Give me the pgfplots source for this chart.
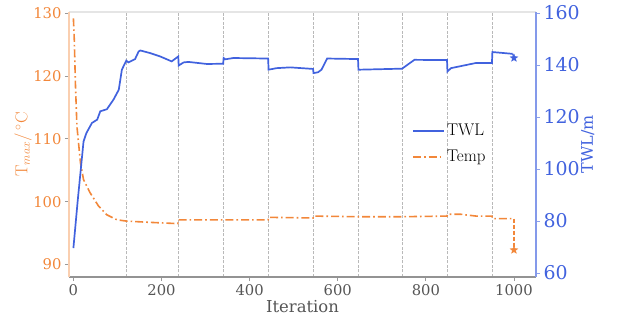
\documentclass[border=0pt]{standalone}
\usepackage[no-math]{fontspec}
\setmainfont{DejaVu Serif}
\newfontfamily\lmr{Latin Modern Roman}
\usepackage{pgfplots}
\pgfplotsset{compat=1.18}
\definecolor{tor}{RGB}{242,135,58}
\definecolor{tbl}{RGB}{65,98,222}
\definecolor{tgr}{RGB}{85,85,85}
\pgfdeclareplotmark{fstar}{%
  \pgfpathmoveto{\pgfpointpolar{90}{\pgfplotmarksize}}%
  \pgfpathlineto{\pgfpointpolar{126}{0.42\pgfplotmarksize}}%
  \pgfpathlineto{\pgfpointpolar{162}{\pgfplotmarksize}}%
  \pgfpathlineto{\pgfpointpolar{198}{0.42\pgfplotmarksize}}%
  \pgfpathlineto{\pgfpointpolar{234}{\pgfplotmarksize}}%
  \pgfpathlineto{\pgfpointpolar{270}{0.42\pgfplotmarksize}}%
  \pgfpathlineto{\pgfpointpolar{306}{\pgfplotmarksize}}%
  \pgfpathlineto{\pgfpointpolar{342}{0.42\pgfplotmarksize}}%
  \pgfpathlineto{\pgfpointpolar{18}{\pgfplotmarksize}}%
  \pgfpathlineto{\pgfpointpolar{54}{0.42\pgfplotmarksize}}%
  \pgfpathclose\pgfusepathqfillstroke}
\tikzset{tempstyle/.style={color=tor, line width=1.6bp, dash pattern=on 8bp off 3bp on 1.6bp off 3bp}}
\begin{document}
\begin{tikzpicture}
\path[use as bounding box] (-69bp,-43bp) rectangle (550bp,277bp);
\begin{axis}[
  scale only axis, width=467bp, height=265bp,
  xmin=-10, xmax=1050, ymin=88, ymax=130.2,
  clip=false,
  axis line style={draw=none},
  xtick={0,200,...,1000}, ytick={90,100,...,130},
  xtick pos=bottom, ytick pos=left, tick align=outside,
  major tick length=4bp, tick style={gray!80, line width=0.8bp},
  extra x ticks={120,238,340,442,544,646,747,849,950},
  extra x tick labels={},
  extra x tick style={grid=major, major tick length=0pt,
     major grid style={dash pattern=on 3bp off 1.5bp, gray!55, line width=0.6bp}},
  /pgf/number format/assume math mode=true,
  /pgf/number format/1000 sep={},
  xticklabel style={font=\fontsize{14.8}{17}\selectfont, text=tgr},
  yticklabel style={font=\fontsize{14.8}{17}\selectfont, text=tor},
  xlabel={Iteration},
  xlabel style={at={(axis description cs:0.5,-0.134)}, anchor=base, font=\fontsize{16.5}{19}\selectfont, text=tgr},
  ylabel={$\mathrm{T}_{max}/\,^\circ\mathrm{C}$},
  ylabel style={at={(axis description cs:-0.0985,0.5)}, anchor=center, rotate=0, font=\fontsize{18.5}{21}\selectfont, text=tor},
]
\draw[gray!85, line width=1.6bp] (rel axis cs:0,0) -- (rel axis cs:1,0);
\draw[gray!20, line width=1.6bp] (rel axis cs:0,1) -- (rel axis cs:1,1);
\draw[tor!40, line width=2bp] (rel axis cs:0,0) -- (rel axis cs:0,1);
\addplot[tempstyle] coordinates {
(0,129.2) (2,125.8) (4.5,118.9) (8,112) (16,106.2) (23,103.5) (38,101.4) (57,99.3)
(76,97.9) (99,97.1) (121,96.9) (174,96.7) (237,96.5) (238,97.1) (340,97.1) (442,97.1)
(443,97.5) (544,97.4) (545,97.7) (646,97.6) (746,97.6) (848,97.7) (849,98.0) (878,98.0)
(914,97.7) (950,97.7) (951,97.3) (1000,97.3)};
\addplot[color=tor, line width=1.2bp, dash pattern=on 4bp off 2bp] coordinates {(1000,97.3) (1000,92.3)};
\addplot[only marks, mark=fstar, mark size=4bp, color=tor] coordinates {(1000,92.3)};
\end{axis}
\begin{axis}[
  scale only axis, width=467bp, height=265bp,
  xmin=-10, xmax=1050, ymin=58.46, ymax=160.4,
  clip=false,
  axis line style={draw=none},
  xtick=\empty, ytick={60,80,...,160},
  ytick pos=right, tick align=outside,
  major tick length=4bp, tick style={tbl!60, line width=0.8bp},
  /pgf/number format/assume math mode=true,
  yticklabel style={font=\fontsize{19}{22}\selectfont, text=tbl},
  ylabel={TWL/m},
  ylabel style={at={(axis description cs:1.111,0.5)}, anchor=center, rotate=0, font=\fontsize{16}{19}\selectfont, text=tbl},
  legend style={draw=none, fill=none, inner sep=0pt, at={(axis description cs:0.7345,0.585)}, anchor=north west,
     font=\lmr\fontsize{17}{20}\selectfont, row sep=9bp},
  legend cell align=left,
  legend image code/.code={\draw[#1] (0bp,0bp) -- (31bp,0bp);},
]
\draw[tbl!65, line width=2bp] (rel axis cs:1,0) -- (rel axis cs:1,1);
\addplot[color=tbl, line width=1.7bp] coordinates {
(0,69.6) (10,88.2) (23,110.6) (29.4,113.8) (42,117.7) (54,119.0) (61,122.2) (76,123.0)
(91,126.7) (103,130.5) (110,138.2) (120,141.7) (125,141.0) (140,142.3) (148,145.2) (152,145.6)
(174,144.6) (197,143.3) (223,141.4) (238,143.3) (239,139.8) (250,141.0) (261,141.2) (303,140.4)
(340,140.5) (341,142.7) (345,142.2) (363,142.7) (442,142.5) (443,138.2) (461,138.8) (492,139.1)
(544,138.5) (545,136.9) (555,137.2) (563,138.2) (576,142.5) (646,142.3) (647,138.2) (746,138.6)
(774,142.0) (848,141.9) (849,137.5) (857,138.8) (914,140.8) (950,140.8) (951,145.0) (997,144.3)};
\addlegendentry{TWL}
\addlegendimage{color=tor, line width=1.6bp, dash pattern=on 8bp off 3bp on 1.6bp off 3bp}
\addlegendentry{Temp}
\addplot[forget plot, color=tbl, line width=1.2bp, dash pattern=on 3bp off 2bp] coordinates {(997,144.3) (1000,142.7)};
\addplot[forget plot, only marks, mark=fstar, mark size=4bp, color=tbl] coordinates {(1000,142.7)};
\end{axis}
\end{tikzpicture}
\end{document}
